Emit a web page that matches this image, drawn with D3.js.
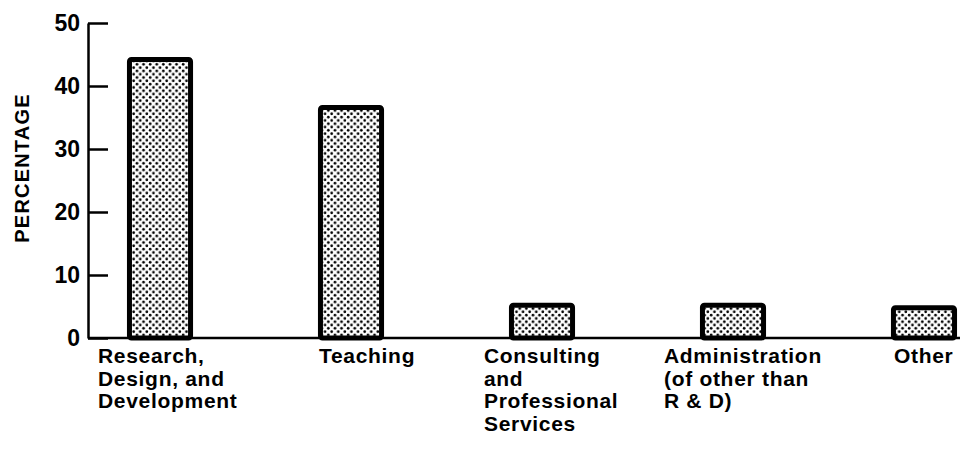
<!DOCTYPE html>
<html>
<head>
<meta charset="utf-8">
<script src="https://cdn.jsdelivr.net/npm/d3@7"></script>
<style>
  body { margin: 0; background: #fff; }
  text { font-family: "Liberation Sans", Arial, sans-serif; font-weight: bold; fill: #000; }
</style>
</head>
<body>
<div id="graph"></div>
<script>
// data
var categories = ["Research", "Teaching", "Consulting", "Administration", "Other"];
var labelLines = [
  ["Research,", "Design, and", "Development"],
  ["Teaching"],
  ["Consulting", "and", "Professional", "Services"],
  ["Administration", "(of other than", "R & D)"],
  ["Other"]
];
var percentages = [44.6, 37, 5.6, 5.6, 5.2];
var yTicks = [0, 10, 20, 30, 40, 50];
// label left edge offset from the bar's left edge (labels are typeset, not centred)
var labelShift = [-29, 1, -25, -36, 3];

var width = 960;
var height = 449;

var svg = d3.select("#graph").append("svg")
    .attr("width", width)
    .attr("height", height);

var defs = svg.append("defs");
var pat = defs.append("pattern")
    .attr("id", "dots")
    .attr("patternUnits", "userSpaceOnUse")
    .attr("width", 6.6)
    .attr("height", 6.6);
pat.append("rect").attr("width", 6.6).attr("height", 6.6).attr("fill", "#fff");
pat.append("circle").attr("cx", 1.65).attr("cy", 1.65).attr("r", 1.35).attr("fill", "#000");
pat.append("circle").attr("cx", 4.95).attr("cy", 4.95).attr("r", 1.35).attr("fill", "#000");

var x0 = 88;
var y = d3.scaleLinear().domain([0, 50]).range([338, 23]);
var x = d3.scaleBand()
    .domain(categories)
    .range([x0, 996])
    .paddingInner(0.654)
    .paddingOuter(0.204);

// bars
var sw = 5;
svg.selectAll(".bar")
    .data(percentages)
  .enter().append("rect")
    .attr("class", "bar")
    .attr("x", function(d, i) { return x(categories[i]) + sw / 2; })
    .attr("y", function(d) { return y(d) + sw / 2; })
    .attr("width", x.bandwidth() - sw)
    .attr("height", function(d) { return y(0) - y(d) - sw / 2; })
    .attr("rx", 2)
    .attr("fill", "url(#dots)")
    .attr("stroke", "#000")
    .attr("stroke-width", sw);

// baseline
svg.append("line")
    .attr("x1", x0)
    .attr("x2", width)
    .attr("y1", y(0))
    .attr("y2", y(0))
    .attr("stroke", "#000")
    .attr("stroke-width", 2.5);

// y axis, ticks pointing inward
var yAxis = d3.axisLeft(y)
    .tickValues(yTicks)
    .tickSizeInner(-20)
    .tickSizeOuter(0)
    .tickPadding(8);

var ga = svg.append("g")
    .attr("transform", "translate(" + x0 + ",0)")
    .call(yAxis);
ga.select(".domain").attr("stroke-width", 2.5);
ga.selectAll(".tick line").attr("stroke-width", 2.5);
ga.selectAll(".tick text")
    .attr("font-size", 23)
    .attr("font-family", "Liberation Sans, Arial, sans-serif")
    .attr("font-weight", "bold");

// y title
svg.append("text")
    .attr("transform", "translate(29,168) rotate(-90)")
    .attr("text-anchor", "middle")
    .attr("font-size", 20)
    .attr("letter-spacing", 1.2)
    .text("PERCENTAGE");

// category labels
var lab = svg.selectAll(".lab")
    .data(labelLines)
  .enter().append("text")
    .attr("class", "lab")
    .attr("font-size", 21)
    .attr("letter-spacing", 0.7)
    .attr("x", function(d, i) { return x(categories[i]) + labelShift[i]; })
    .attr("y", 363);

lab.selectAll("tspan")
    .data(function(d, i) { return d.map(function(s) { return { s: s, i: i }; }); })
  .enter().append("tspan")
    .attr("x", function(d) { return x(categories[d.i]) + labelShift[d.i]; })
    .attr("dy", function(d, j) { return j === 0 ? 0 : 22.7; })
    .text(function(d) { return d.s; });
</script>
</body>
</html>
